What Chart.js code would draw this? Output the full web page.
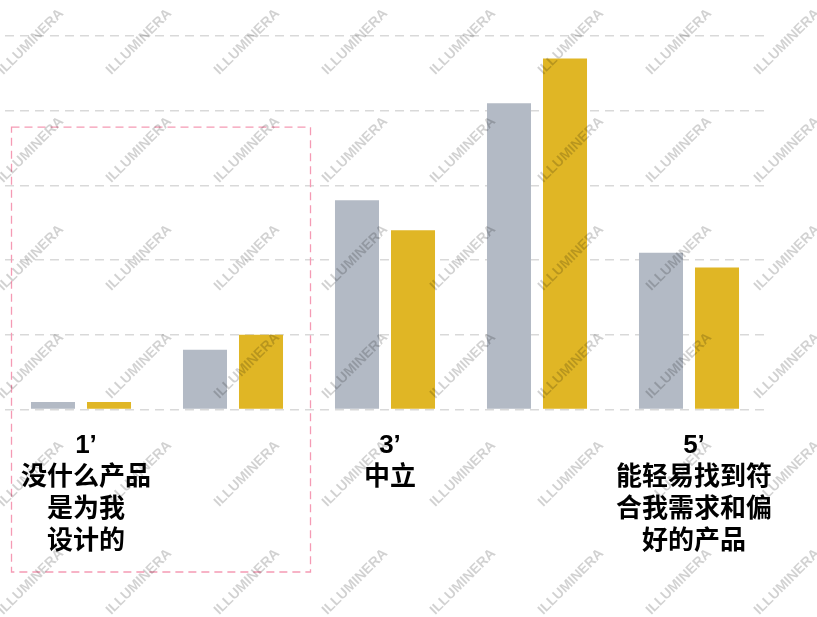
<!DOCTYPE html>
<html lang="zh-CN">
<head>
<meta charset="utf-8">
<title>评分分布</title>
<script src="https://cdn.jsdelivr.net/npm/chart.js@4"></script>
<style>
  html, body { margin: 0; padding: 0; background: #ffffff; }
  .chart-wrap { position: relative; width: 817px; height: 617px; }
</style>
</head>
<body>
<div class="chart-wrap">
  <canvas id="scoreChart"></canvas>
</div>
<script>
// Categorias do eixo X (escala 1 a 5) e os rótulos mostrados abaixo delas
const categories = ['1', '2', '3', '4', '5'];
const tickLabels = [
    ['1’', '没什么产品', '是为我', '设计的'],
    [''],
    ['3’', '中立'],
    [''],
    ['5’', '能轻易找到符', '合我需求和偏', '好的产品']
];

// Percentuais de cada série
const seriesGrey = [1, 8, 28, 41, 21];
const seriesGold = [1, 10, 24, 47, 19];

const yMax = 50;
const yStep = 10;

// Marca d'água repetida em diagonal sobre o gráfico
const watermarkPlugin = {
    id: 'watermark',
    afterDraw(chart) {
        const ctx = chart.ctx;
        ctx.save();
        ctx.font = 'bold 14px "Liberation Sans", Arial, sans-serif';
        ctx.fillStyle = 'rgba(0, 0, 0, 0.18)';
        ctx.textAlign = 'center';
        ctx.textBaseline = 'middle';
        for (let j = 0; j < 6; j++) {
            for (let k = 0; k < 8; k++) {
                ctx.save();
                ctx.translate(31 + 108 * k, 42 + 108 * j);
                ctx.rotate(-Math.PI / 4);
                ctx.fillText('ILLUMINERA', 0, 0);
                ctx.restore();
            }
        }
        ctx.restore();
    }
};

// Caixa tracejada rosa em volta das duas primeiras categorias
const highlightPlugin = {
    id: 'highlightBox',
    afterDatasetsDraw(chart) {
        const { ctx, scales: { x, y } } = chart;
        const half = (x.getPixelForValue(1) - x.getPixelForValue(0)) / 2;
        const left = x.getPixelForValue(0) - half + 6.5;
        const right = x.getPixelForValue(1) + half + 1.5;
        const top = y.getPixelForValue(37.8);
        const bottom = chart.height - 45;
        ctx.save();
        ctx.strokeStyle = '#f59ab4';
        ctx.lineWidth = 1.3;
        ctx.setLineDash([8, 5]);
        ctx.strokeRect(left, top, right - left, bottom - top);
        ctx.restore();
    }
};

const chartData = {
    labels: categories,
    datasets: [{
        label: 'A',
        data: seriesGrey,
        backgroundColor: '#b3bac5',
        borderWidth: 0
    }, {
        label: 'B',
        data: seriesGold,
        backgroundColor: '#e0b625',
        borderWidth: 0
    }]
};

const chartConfig = {
    type: 'bar',
    data: chartData,
    options: {
        responsive: true,
        maintainAspectRatio: false,
        animation: false,
        categoryPercentage: 0.737,
        barPercentage: 0.786,
        layout: {
            padding: { left: 5, right: 52, top: 36, bottom: 55.5 }
        },
        plugins: {
            legend: { display: false },
            tooltip: { enabled: false }
        },
        scales: {
            x: {
                // marcas invisíveis só para afastar os rótulos da base
                grid: {
                    display: true,
                    drawOnChartArea: false,
                    drawTicks: true,
                    tickLength: 16,
                    color: 'rgba(0, 0, 0, 0)'
                },
                border: { display: false },
                ticks: {
                    color: '#000000',
                    padding: 4,
                    labelOffset: 5,
                    maxRotation: 0,
                    autoSkip: false,
                    font: {
                        family: '"Liberation Sans", "Noto Sans CJK SC", sans-serif',
                        size: 26,
                        weight: 'bold',
                        lineHeight: 32 / 26
                    },
                    callback: (value, index) => tickLabels[index]
                }
            },
            y: {
                min: 0,
                max: yMax,
                ticks: { display: false, stepSize: yStep },
                border: { display: false, dash: [9, 6] },
                grid: {
                    drawTicks: false,
                    color: '#d9d9d9',
                    lineWidth: 1.5
                }
            }
        }
    },
    plugins: [highlightPlugin, watermarkPlugin]
};

const scoreChart = new Chart(
    document.getElementById('scoreChart'),
    chartConfig
);
</script>
</body>
</html>
